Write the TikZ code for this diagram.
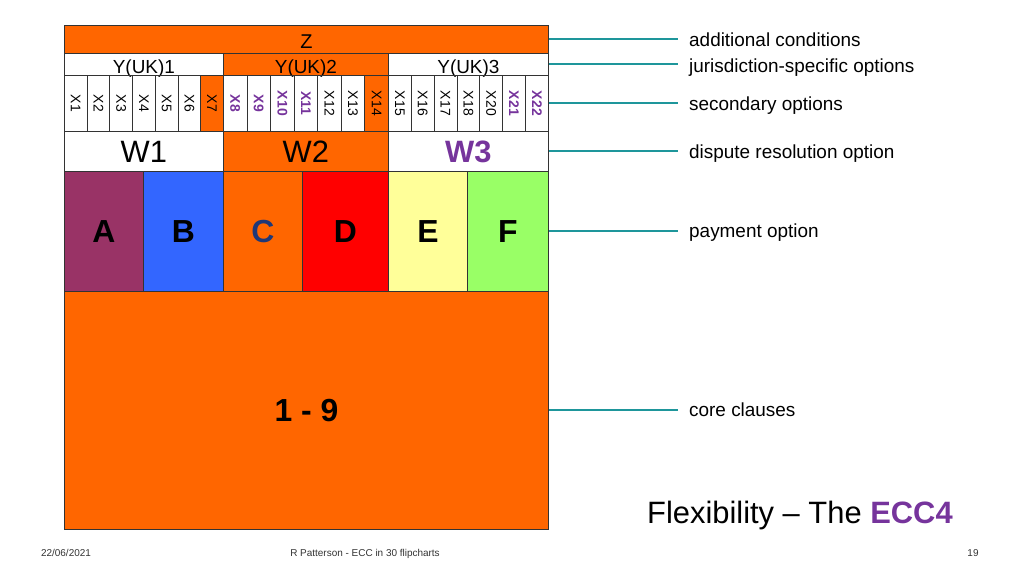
\documentclass[tikz,border=0pt]{standalone}
\usepackage{fontspec}
\setmainfont{Liberation Sans}
\usepackage{graphicx}
\definecolor{eccorange}{RGB}{255,102,0}
\definecolor{eccpurple}{RGB}{118,52,156}
\definecolor{eccteal}{RGB}{30,150,155}
\definecolor{payA}{RGB}{153,51,102}
\definecolor{payB}{RGB}{51,102,255}
\definecolor{payD}{RGB}{255,0,0}
\definecolor{payE}{RGB}{255,255,153}
\definecolor{payF}{RGB}{153,255,102}
\definecolor{textC}{RGB}{31,56,120}
\tikzset{
  cell/.style={draw=black!80, line width=0.8bp, inner sep=0pt, anchor=north west},
  xp/.style={font=\fontsize{14}{14}\selectfont},
  xo/.style={xp, fill=eccorange},
  xv/.style={font=\fontsize{14}{14}\selectfont\bfseries, text=eccpurple},
  ytext/.style={font=\fontsize{19}{19}\selectfont, text height=18bp, text depth=0pt},
  wtext/.style={font=\fontsize{31}{31}\selectfont},
  big/.style={font=\fontsize{32}{32}\selectfont\bfseries},
  lead/.style={eccteal, line width=2bp, shorten >=11bp},
  lbl/.style={anchor=base west, inner sep=0pt, font=\fontsize{19}{19}\selectfont},
  foot/.style={anchor=base, inner sep=0pt, font=\fontsize{10}{10}\selectfont, text=black!80},
}
\begin{document}
\begin{tikzpicture}[x=1bp, y=-1bp]
  \useasboundingbox (0,0) rectangle (1024,576);
  % Z and Y(UK) rows
  \node (z) [cell, fill=eccorange, minimum width=484bp, minimum height=28bp, font=\fontsize{20}{20}\selectfont, text height=19bp, text depth=0pt] at (64,25) {Z};
  \node (y1) [cell, ytext, minimum width=159bp, minimum height=22bp] at (64,53) {Y(UK)1};
  \node (y2) [cell, ytext, fill=eccorange, minimum width=165bp, minimum height=22bp] at (223,53) {Y(UK)2};
  \node (y3) [cell, ytext, minimum width=160bp, minimum height=22bp] at (388,53) {Y(UK)3};
  % secondary options
  \foreach \gx/\gw/\cols in {64/22.714/{1/xp,2/xp,3/xp,4/xp,5/xp,6/xp,7/xo},
                             223/23.571/{8/xv,9/xv,10/xv,11/xv,12/xp,13/xp,14/xo},
                             388/22.857/{15/xp,16/xp,17/xp,18/xp,20/xp,21/xv,22/xv}}
    \foreach \n/\s [count=\k from 0] in \cols
      \node (x\n) [cell, \s, minimum width=\gw bp, minimum height=56bp] at (\gx+\k*\gw, 75) {\rotatebox{-90}{X\n}};
  % W row
  \node (w1) [cell, wtext, minimum width=159bp, minimum height=40bp] at (64,131) {W1};
  \node (w2) [cell, wtext, fill=eccorange, minimum width=165bp, minimum height=40bp] at (223,131) {W2};
  \node (w3) [cell, wtext, text=eccpurple, minimum width=160bp, minimum height=40bp] at (388,131) {\bfseries W3};
  % payment options
  \node (a) [cell, big, fill=payA, minimum width=79bp, minimum height=120bp] at (64,171) {A};
  \node (b) [cell, big, fill=payB, minimum width=80bp, minimum height=120bp] at (143,171) {B};
  \node (c) [cell, big, fill=eccorange, text=textC, minimum width=79bp, minimum height=120bp] at (223,171) {C};
  \node (d) [cell, big, fill=payD, minimum width=86bp, minimum height=120bp] at (302,171) {D};
  \node (e) [cell, big, fill=payE, minimum width=79bp, minimum height=120bp] at (388,171) {E};
  \node (f) [cell, big, fill=payF, minimum width=81bp, minimum height=120bp] at (467,171) {F};
  % core clauses
  \node (core) [cell, big, fill=eccorange, minimum width=484bp, minimum height=238bp] at (64,291) {1 - 9};
  % labels
  \node (lz) [lbl] at (689,47) {additional conditions};
  \node (ly) [lbl] at (689,73) {jurisdiction-specific options};
  \node (lx) [lbl] at (689,111) {secondary options};
  \node (lw) [lbl] at (689,159) {dispute resolution option};
  \node (lp) [lbl] at (689,238) {payment option};
  \node (lc) [lbl] at (689,416) {core clauses};
  \draw[lead] (z.east) -- (z.east -| lz.west);
  \draw[lead] (y3.east) -- (y3.east -| ly.west);
  \draw[lead] (x22.east) -- (x22.east -| lx.west);
  \draw[lead] (w3.east) -- (w3.east -| lw.west);
  \draw[lead] (f.east) -- (f.east -| lp.west);
  \draw[lead] (core.east) -- (core.east -| lc.west);
  % title and footer
  \node (title) [anchor=base west, inner sep=0pt, font=\fontsize{31}{31}\selectfont] at (647,523) {Flexibility – The \textcolor{eccpurple}{\bfseries ECC4}};
  \node (date) [foot] at (66,556) {22/06/2021};
  \node (author) [foot] at (365,556) {R Patterson - ECC in 30 flipcharts};
  \node (page) [foot] at (973,556) {19};
\end{tikzpicture}
\end{document}
